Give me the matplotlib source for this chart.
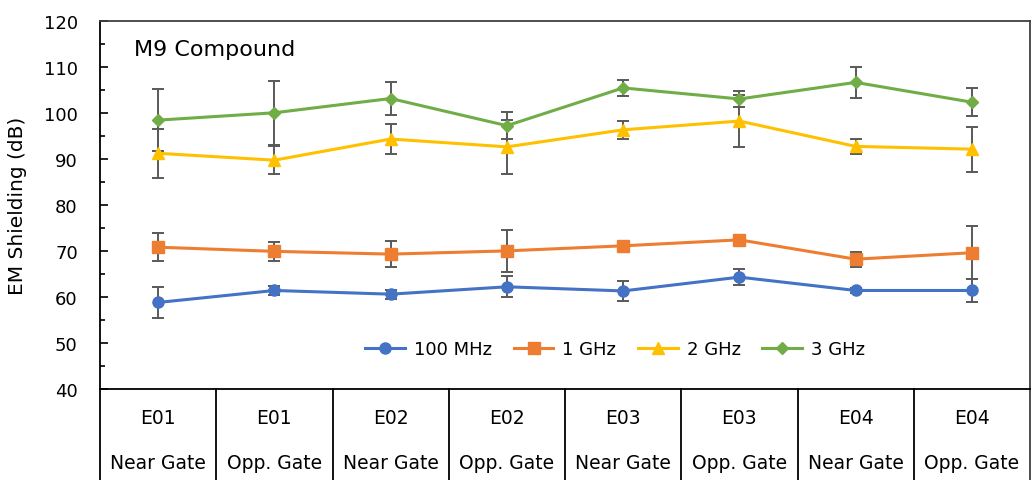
import numpy as np
import matplotlib
matplotlib.use('Agg')
from matplotlib import pyplot as plt
from matplotlib import transforms

### DATA
positions = ['E01', 'E01', 'E02', 'E02', 'E03', 'E03', 'E04', 'E04']
sides = ['Near Gate', 'Opp. Gate'] * 4

series = ['100 MHz', '1 GHz', '2 GHz', '3 GHz']
mhz100 = [58.8, 61.4, 60.6, 62.2, 61.3, 64.3, 61.4, 61.4]
mhz100_err = [3.3, 0.9, 1.0, 2.3, 2.2, 1.8, 0.5, 2.6]
ghz1 = [70.8, 69.9, 69.3, 70.0, 71.1, 72.4, 68.2, 69.6]
ghz1_err = [3.0, 2.0, 2.8, 4.6, 0.5, 0.5, 1.6, 5.8]
ghz2 = [91.2, 89.7, 94.3, 92.6, 96.3, 98.2, 92.7, 92.1]
ghz2_err = [5.3, 3.0, 3.3, 5.9, 2.0, 5.6, 1.6, 4.9]
ghz3 = [98.4, 100.0, 103.1, 97.2, 105.4, 103.0, 106.6, 102.3]
ghz3_err = [6.8, 7.0, 3.6, 3.0, 1.7, 1.8, 3.4, 3.0]

### STYLE
colors = ['#4472C4', '#ED7D31', '#FFC000', '#70AD47']
markers = ['o', 's', '^', 'D']
msizes = [8, 8, 9, 6]
plt.rcParams['font.family'] = ['DejaVu Sans']

fig = plt.figure(figsize=(10.32, 4.81), dpi=100)
ax = fig.add_axes([100 / 1032, 1 - 390 / 481, 930 / 1032, 368.3 / 481])

x = np.arange(len(positions))
values = [mhz100, ghz1, ghz2, ghz3]
errors = [mhz100_err, ghz1_err, ghz2_err, ghz3_err]
handles = []
for vals, errs, name, c, m, ms in zip(values, errors, series, colors, markers, msizes):
    cont = ax.errorbar(x, vals, yerr=errs, color=c, marker=m, markersize=ms, lw=2.2,
                       ecolor='#595959', elinewidth=1.4, capsize=4, capthick=1.4, label=name, zorder=3)
    handles.append(cont[0])

ax.set_xlim(-0.5, len(positions) - 0.5)
ax.set_ylim(40, 120)
ax.set_yticks(np.arange(40, 121, 10))
ax.set_yticks(np.arange(45, 120, 10), minor=True)
ax.tick_params(axis='y', which='major', direction='in', length=5.5, width=1.2, labelsize=13, pad=16)
ax.tick_params(axis='y', which='minor', direction='in', length=3.6, width=1.2)
ax.set_xticks([])
ax.set_ylabel('EM Shielding (dB)', fontsize=14.5)
ax.yaxis.set_label_coords(-0.078, 0.5)

for side in ['left', 'bottom']:
    ax.spines[side].set_linewidth(1.3)
    ax.spines[side].set_color('black')
for side in ['top', 'right']:
    ax.spines[side].set_linewidth(1.3)
    ax.spines[side].set_color('#404040')

# category table below the axis
trans = transforms.blended_transform_factory(ax.transData, ax.transAxes)
for k in range(len(positions) + 1):
    col = '#404040' if k == len(positions) else 'black'
    ax.plot([k - 0.5, k - 0.5], [0, -0.26], color=col, lw=1.3, transform=trans, clip_on=False)
for xi, pos, side in zip(x, positions, sides):
    ax.text(xi, -0.078, pos, transform=trans, ha='center', va='center', fontsize=13.5)
    ax.text(xi, -0.2, side, transform=trans, ha='center', va='center', fontsize=13.5)

ax.text(0.037, 0.923, 'M9 Compound', transform=ax.transAxes, ha='left', va='center', fontsize=16)

ax.legend(handles, series, loc='center', bbox_to_anchor=(0.554, 0.109), ncol=4, frameon=False,
          fontsize=13, handlelength=2.2, columnspacing=1.2, handletextpad=0.5)

plt.savefig('out.png', dpi=100)
